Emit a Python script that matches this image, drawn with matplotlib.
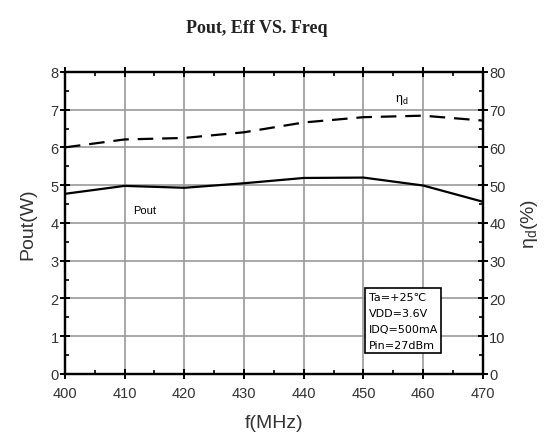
import numpy as np
import matplotlib
matplotlib.use("Agg")
import matplotlib.pyplot as plt
from matplotlib.ticker import MultipleLocator

# ---------------- DATA ---------------- #
freq = [400, 410, 420, 430, 440, 450, 460, 470]
pout = [4.77, 4.98, 4.93, 5.05, 5.19, 5.20, 4.99, 4.56]
eff = [60.0, 62.1, 62.5, 64.0, 66.6, 68.0, 68.4, 67.1]
cond_lines = ["Ta=+25\u2103", "VDD=3.6V", "IDQ=500mA", "Pin=27dBm"]

plt.rcParams['font.family'] = ['Liberation Sans', 'DejaVu Sans']

# ---------------- FIGURE ---------------- #
fig = plt.figure(figsize=(5.5, 4.39), dpi=100)
ax = fig.add_axes([0.118, 0.146, 0.760, 0.688])
ax2 = ax.twinx()

ax.grid(True, color="#9a9a9a", linewidth=1.2, zorder=0)
ax.set_axisbelow(True)

ax.plot(freq, pout, color="black", linewidth=1.6, zorder=3)
ax2.plot(freq, eff, color="black", linewidth=1.6, linestyle=(0, (7, 4)), zorder=3)

ax.set_xlim(400, 470)
ax.set_ylim(0, 8)
ax2.set_ylim(0, 80)

ax.xaxis.set_major_locator(MultipleLocator(10))
ax.xaxis.set_minor_locator(MultipleLocator(5))
ax.yaxis.set_major_locator(MultipleLocator(1))
ax.yaxis.set_minor_locator(MultipleLocator(0.5))
ax2.yaxis.set_major_locator(MultipleLocator(10))
ax2.yaxis.set_minor_locator(MultipleLocator(5))

for a in (ax, ax2):
    for s in a.spines.values():
        s.set_linewidth(1.6)
    a.tick_params(which="major", direction="inout", length=7, width=1.4,
                  labelsize=10.5, labelcolor="#333333", pad=1)
    a.tick_params(which="minor", direction="in", length=3, width=1.2)
ax.tick_params(axis="x", which="both", top=True)
ax.tick_params(axis="x", which="major", pad=5)

ax.set_xlabel("f(MHz)", fontsize=14, color="#333333", labelpad=10)
ax.set_ylabel("Pout(W)", fontsize=14, color="#333333", labelpad=10)
ax2.set_ylabel(r"$\mathregular{\eta_d}$(%)", fontsize=14, color="#333333",
               labelpad=10)

ax.text(413.4, 4.35, "Pout", fontsize=8, ha="center", va="center")
ax.text(456.4, 7.28, r"$\mathregular{\eta_d}$", fontsize=9, ha="center",
        va="center")

ax.text(0.727, 0.272, "\n".join(cond_lines), transform=ax.transAxes,
        fontsize=8, va="top", ha="left", linespacing=1.75,
        family=["DejaVu Sans"], zorder=5,
        bbox=dict(boxstyle="square,pad=0.3", facecolor="white",
                  edgecolor="black", linewidth=1.2))

fig.suptitle("Pout, Eff VS. Freq", x=0.467, y=0.955, fontsize=13,
             fontweight="bold", family="Liberation Serif", color="#222222")

fig.savefig("out.png", dpi=100)
